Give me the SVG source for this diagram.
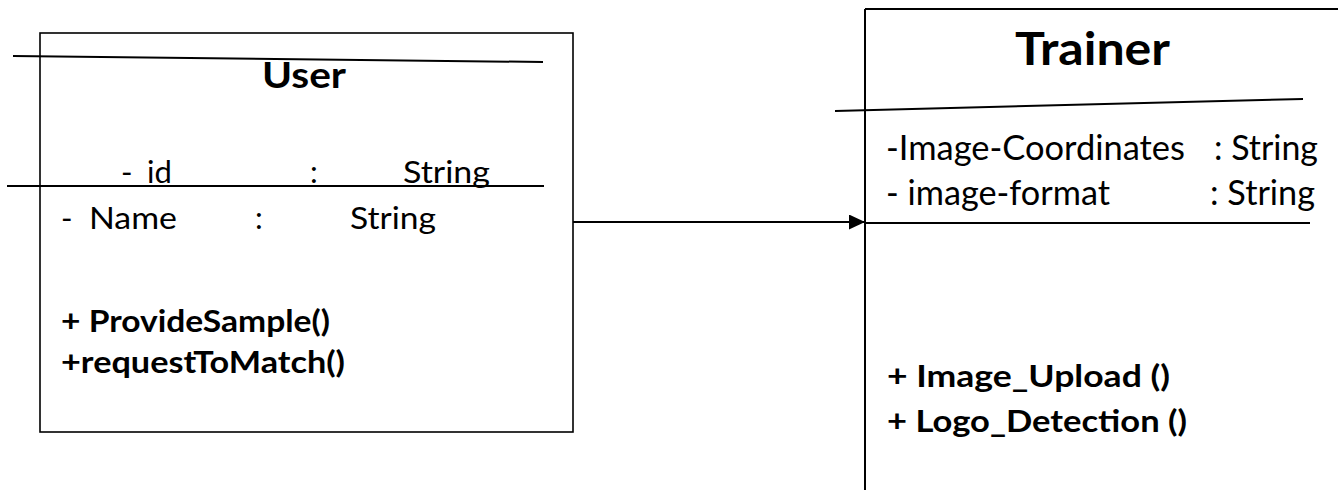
<svg xmlns="http://www.w3.org/2000/svg" width="1338" height="490" viewBox="0 0 1338 490">
<style>
.ln{stroke:#000;stroke-width:2;fill:none}
.bx{stroke:#000;stroke-width:1.6;fill:#fff}
.t{font-family:Lato,"Open Sans","Liberation Sans",sans-serif;fill:#000}
.a{font-size:31px}
.ta{font-size:34px}
.m{font-size:30px;font-weight:bold}
.tm{font-size:31px;font-weight:bold}
.h{font-weight:bold}
</style>
<defs>
<marker id="arr" markerWidth="16" markerHeight="15" refX="16" refY="7.5" orient="auto" markerUnits="userSpaceOnUse">
<path d="M0,0 L16,7.5 L0,15 Z" fill="#000"/>
</marker>
</defs>
<rect width="1338" height="490" fill="#fff"/>
<g id="user">
<rect class="bx" x="40" y="33" width="533" height="399"/>
<line class="ln" x1="13" y1="56" x2="543" y2="62"/>
<line class="ln" x1="7" y1="186" x2="544" y2="186"/>
<text class="t h" x="262" y="88" font-size="36" textLength="84" lengthAdjust="spacingAndGlyphs">User</text>
<text class="t a" x="121" y="183">- <tspan x="147">id</tspan></text>
<text class="t a" x="310" y="183">:</text>
<text class="t a" x="403" y="183" textLength="87" lengthAdjust="spacingAndGlyphs">String</text>
<text class="t a" x="61" y="229">- <tspan x="89" textLength="88" lengthAdjust="spacingAndGlyphs">Name</tspan></text>
<text class="t a" x="255" y="229">:</text>
<text class="t a" x="350" y="229" textLength="86" lengthAdjust="spacingAndGlyphs">String</text>
<text class="t m" x="61" y="332" textLength="269" lengthAdjust="spacingAndGlyphs">+ ProvideSample()</text>
<text class="t m" x="61" y="373" textLength="284" lengthAdjust="spacingAndGlyphs">+requestToMatch()</text>
</g>
<g id="trainer">
<line class="ln" x1="865" y1="9" x2="1338" y2="9"/>
<line class="ln" x1="865" y1="9" x2="865" y2="490"/>
<line class="ln" x1="835" y1="111" x2="1303" y2="99"/>
<line class="ln" x1="865" y1="223" x2="1310" y2="223"/>
<text class="t h" x="1015" y="65" font-size="46" textLength="155" lengthAdjust="spacingAndGlyphs">Trainer</text>
<text class="t ta" x="886" y="160" textLength="299" lengthAdjust="spacingAndGlyphs">-Image-Coordinates</text>
<text class="t ta" x="1214" y="160" textLength="104" lengthAdjust="spacingAndGlyphs">: String</text>
<text class="t ta" x="886" y="205" textLength="224" lengthAdjust="spacingAndGlyphs">- image-format</text>
<text class="t ta" x="1210" y="205" textLength="105" lengthAdjust="spacingAndGlyphs">: String</text>
<text class="t tm" x="887" y="387" textLength="283" lengthAdjust="spacingAndGlyphs">+ Image_Upload ()</text>
<text class="t tm" x="887" y="432" textLength="300" lengthAdjust="spacingAndGlyphs">+ Logo_Detection ()</text>
</g>
<g id="connectors">
<line class="ln" x1="573" y1="222" x2="865" y2="222" marker-end="url(#arr)"/>
</g>
</svg>
